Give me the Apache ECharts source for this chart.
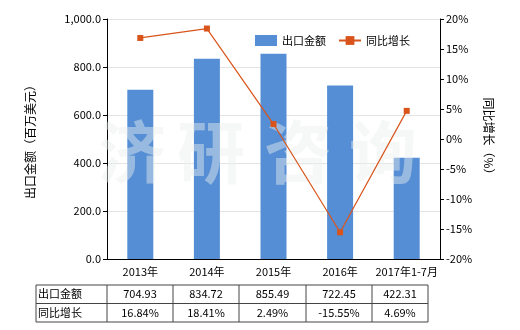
<!DOCTYPE html>
<html><head><meta charset="utf-8">
<script src="https://cdn.jsdelivr.net/npm/echarts@6/dist/echarts.min.js"></script>
<style>html,body{margin:0;padding:0;background:#fff}#c{width:520px;height:330px}</style>
</head><body><div id="c"></div>
<script>
var categories = ['2013年','2014年','2015年','2016年','2017年1-7月'];
var exportValues = [704.93, 834.72, 855.49, 722.45, 422.31];
var growthValues = [16.84, 18.41, 2.49, -15.55, 4.69];
var exportLabels = ['704.93','834.72','855.49','722.45','422.31'];
var growthLabels = ['16.84%','18.41%','2.49%','-15.55%','4.69%'];
var seriesNames = ['出口金额','同比增长'];
var leftAxisName = '出口金额（百万美元）';
var rightAxisName = '同比增长（%）';
var watermark = ['济','研','咨','询'];

var FONT = '"Noto Sans CJK SC", sans-serif';
var chart = echarts.init(document.getElementById('c'), null, {renderer:'canvas'});

var gridL = 107, gridR = 440, gridT = 19, gridB = 259;
var graphics = [];
// watermark as title components
var wmX = [98, 177, 264, 349];
var titles = watermark.map(function(ch, i){
  return {text: ch, left: wmX[i], top: 118, padding:0, z: 6,
    textStyle:{fontFamily: FONT, fontSize: 68, fontWeight:'bold', color:'rgba(235,240,238,0.45)'}};
});
// table
var tTop = 285, rowH = 18.5, tLeft = 36, tRight = 428;
var colX = [tLeft, 107, 173, 239, 306, 372, tRight];
[tTop, tTop+rowH, tTop+2*rowH].forEach(function(y){
  graphics.push({type:'line', shape:{x1:tLeft, y1:y, x2:tRight, y2:y}, style:{stroke:'#444', lineWidth:1}});
});
colX.forEach(function(x){
  graphics.push({type:'line', shape:{x1:x, y1:tTop, x2:x, y2:tTop+2*rowH}, style:{stroke:'#444', lineWidth:1}});
});
var rows = [exportLabels, growthLabels];
rows.forEach(function(r, ri){
  var cy = tTop + rowH*ri + rowH/2;
  graphics.push({type:'text', x: tLeft+2, y: cy, style:{text: seriesNames[ri], font:'11px '+FONT, fill:'#000', textVerticalAlign:'middle', verticalAlign:'middle'}});
  r.forEach(function(v, ci){
    var cx = (colX[ci+1] + colX[ci+2]) / 2;
    graphics.push({type:'text', x: cx, y: cy, style:{text: v, font:'11px '+FONT, fill:'#000', textAlign:'center', align:'center', textVerticalAlign:'middle', verticalAlign:'middle'}});
  });
});

chart.setOption({
  animation:false,
  backgroundColor:'#fff',
  textStyle:{fontFamily: FONT},
  title: titles,
  grid:{left:gridL, right:520-gridR, top:gridT, bottom:330-gridB, containLabel:false},
  legend:{
    top:30, left:250, itemGap:12, itemWidth:22, itemHeight:11,
    textStyle:{fontSize:11, color:'#000', fontFamily:FONT},
    data:[{name:seriesNames[0], icon:'rect'}, {name:seriesNames[1]}]
  },
  xAxis:{
    type:'category', data:categories,
    axisLine:{lineStyle:{color:'#000'}},
    axisTick:{show:false},
    axisLabel:{color:'#000', fontSize:11, margin:7, interval:0, fontFamily:FONT}
  },
  yAxis:[{
    type:'value', min:0, max:1000, interval:200,
    name:leftAxisName, nameLocation:'middle', nameGap:71, nameRotate:90,
    nameTextStyle:{color:'#000', fontSize:12, fontFamily:FONT},
    axisLine:{show:true, lineStyle:{color:'#000'}},
    axisTick:{show:true, length:4, lineStyle:{color:'#000'}},
    axisLabel:{color:'#000', fontSize:11, margin:6, fontFamily:FONT, formatter:function(v){return v.toLocaleString('en-US',{minimumFractionDigits:1, maximumFractionDigits:1});}},
    splitLine:{lineStyle:{color:'#e4e4e4'}}
  },{
    type:'value', min:-20, max:20, interval:5,
    name:rightAxisName, nameLocation:'middle', nameGap:40, nameRotate:-90,
    nameTextStyle:{color:'#000', fontSize:12, fontFamily:FONT},
    axisLine:{show:true, lineStyle:{color:'#000'}},
    axisTick:{show:true, length:4, lineStyle:{color:'#000'}},
    axisLabel:{color:'#000', fontSize:11, margin:6, fontFamily:FONT, formatter:'{value}%'},
    splitLine:{show:false}
  }],
  series:[{
    name:seriesNames[0], type:'bar', data:exportValues, barWidth:26, z:2,
    itemStyle:{color:'#558ed5'}
  },{
    name:seriesNames[1], type:'line', yAxisIndex:1, data:growthValues, z:10,
    symbol:'rect', symbolSize:6,
    lineStyle:{color:'#d9541a', width:1.2},
    itemStyle:{color:'#d9541a'}
  }],
  graphic: graphics
});
</script></body></html>
